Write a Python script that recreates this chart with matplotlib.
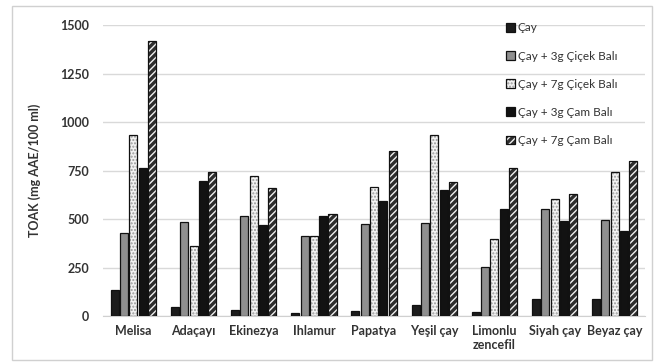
import numpy as np
import matplotlib.pyplot as plt
from matplotlib.patches import Rectangle
from matplotlib.legend_handler import HandlerTuple

plt.rcParams['font.family'] = ['Lato', 'DejaVu Sans']
plt.rcParams['hatch.linewidth'] = 1.0

categories = ['Melisa', 'Adaçayı', 'Ekinezya', 'Ihlamur', 'Papatya',
              'Yeşil çay', 'Limonlu\nzencefil', 'Siyah çay', 'Beyaz çay']
series_names = ['Çay', 'Çay + 3g Çiçek Balı', 'Çay + 7g Çiçek Balı',
                'Çay + 3g Çam Balı', 'Çay + 7g Çam Balı']

cay = [134, 48, 33, 17, 25, 60, 22, 86, 86]
cay_3g_cicek = [429, 483, 517, 411, 474, 480, 254, 551, 495]
cay_7g_cicek = [933, 361, 723, 413, 667, 933, 400, 606, 744]
cay_3g_cam = [761, 696, 469, 517, 593, 650, 551, 491, 440]
cay_7g_cam = [1418, 744, 658, 529, 852, 692, 765, 629, 800]

yticks = [0, 250, 500, 750, 1000, 1250, 1500]

all_series = [cay, cay_3g_cicek, cay_7g_cicek, cay_3g_cam, cay_7g_cam]

fig = plt.figure(figsize=(6.58, 3.63), dpi=100)
ax = fig.add_axes([0.157, 0.129, 0.823, 0.802])

# thin grey frame around the whole chart
fig.patches.append(Rectangle((0.018, 0.008), 0.973, 0.975, transform=fig.transFigure,
                             fill=False, edgecolor='#d0d0d0', linewidth=1.0))

x = np.arange(len(categories))
pitch = 0.155
w = 0.135
txt = '#333333'

styles = [
    dict(color='#1c1c1c', hatch=None, hcolor=None),
    dict(color='#8f8f8f', hatch=None, hcolor=None),
    dict(color='#f2f2f2', hatch='.....', hcolor='#9a9a9a'),
    dict(color='#121212', hatch=None, hcolor=None),
    dict(color='#2e2e2e', hatch='/////', hcolor='#f0f0f0'),
]

handles = []
for i, (vals, st) in enumerate(zip(all_series, styles)):
    pos = x + (i - 2) * pitch
    if st['hatch']:
        ax.bar(pos, vals, w, color=st['color'], hatch=st['hatch'],
               edgecolor=st['hcolor'], linewidth=0, zorder=3)
        ax.bar(pos, vals, w, fill=False, edgecolor='#111111',
               linewidth=0.9, zorder=4)
        inner = Rectangle((0, 0), 1, 1, facecolor=st['color'], hatch=st['hatch'],
                          edgecolor=st['hcolor'], linewidth=0)
        outline = Rectangle((0, 0), 1, 1, fill=False, edgecolor='#111111', linewidth=0.9)
        handles.append((inner, outline))
    else:
        h = ax.bar(pos, vals, w, color=st['color'], edgecolor='#111111',
                   linewidth=0.9, zorder=3)
        handles.append(h)

ax.set_ylim(0, 1500)
ax.set_xlim(-0.5, len(categories) - 0.5)
ax.set_yticks(yticks)
ax.set_yticklabels([str(t) for t in yticks], fontsize=9, fontweight='bold', color=txt)
ax.set_xticks(x)
ax.set_xticklabels(categories, fontsize=9, fontweight='bold', color=txt)
ax.tick_params(length=0, pad=6)
ax.tick_params(axis='y', pad=10)

ax.grid(axis='y', color='#d9d9d9', linewidth=1.0, zorder=0)
ax.set_axisbelow(True)
for s in ['top', 'right', 'left']:
    ax.spines[s].set_visible(False)
ax.spines['bottom'].set_color('#d0d0d0')

ax.set_ylabel('TOAK (mg AAE/100 ml)', fontsize=9, fontweight='bold', color=txt, labelpad=14)

leg = ax.legend(handles, series_names, loc='upper left', bbox_to_anchor=(0.735, 1.025),
                frameon=False, fontsize=8.5, handlelength=0.75, handleheight=0.75,
                handletextpad=0.25, labelspacing=1.45, borderaxespad=0,
                handler_map={tuple: HandlerTuple(ndivide=1, pad=0)})
for t in leg.get_texts():
    t.set_color(txt)

fig.savefig('out.png', dpi=100)
